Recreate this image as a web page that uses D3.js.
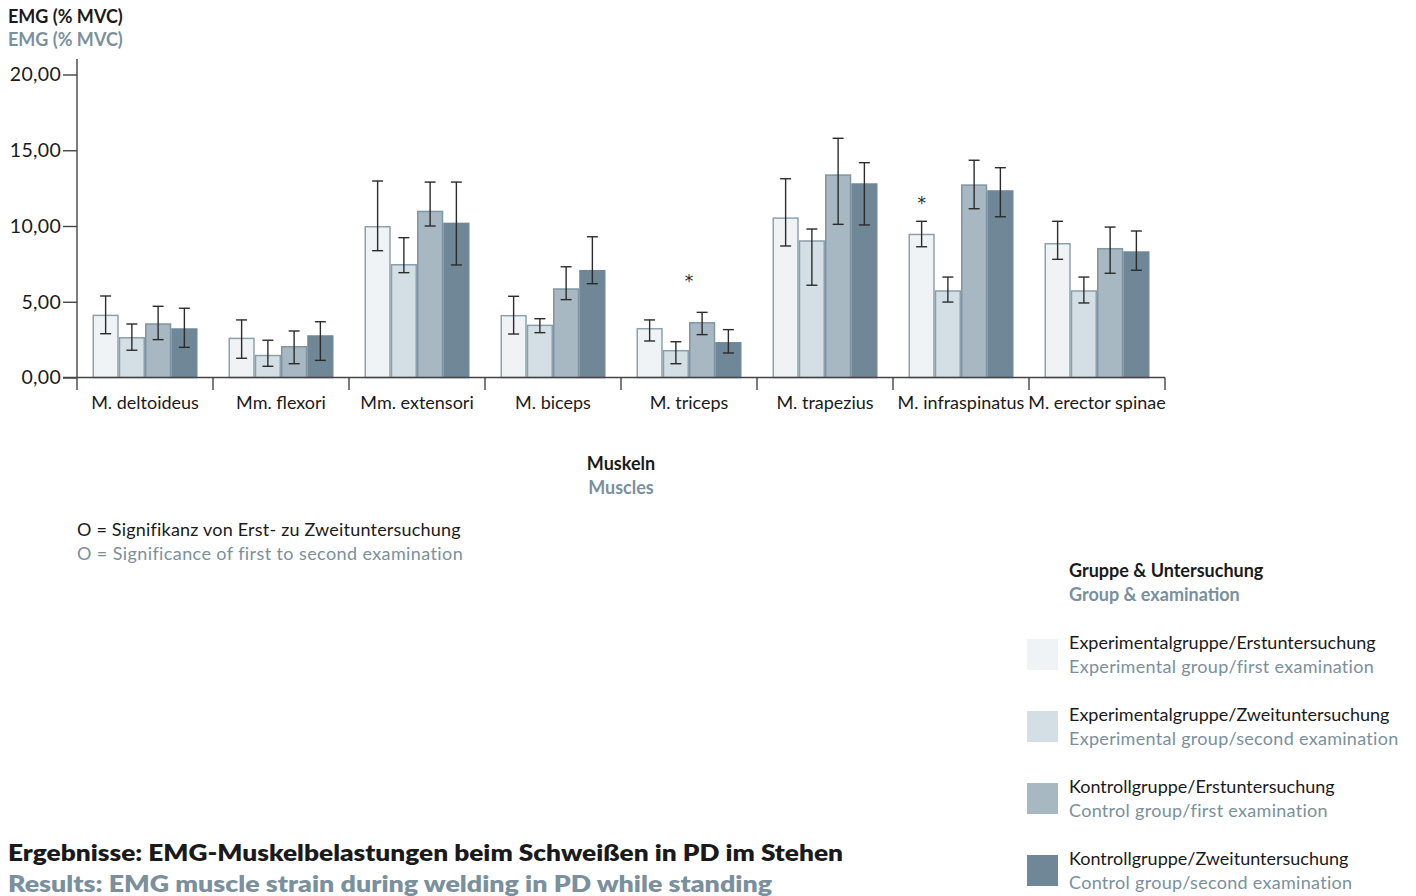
<!DOCTYPE html>
<html>
<head>
<meta charset="utf-8">
<script src="https://cdn.jsdelivr.net/npm/d3@7"></script>
<style>
  html, body { margin: 0; padding: 0; background: #ffffff; }
  svg { display: block; font-family: Lato, "Noto Sans", sans-serif; }
</style>
</head>
<body>
<svg id="chart" width="1416" height="896"></svg>
<script>
// Muscles measured (x categories)
const categories = ["M. deltoideus", "Mm. flexori", "Mm. extensori", "M. biceps",
                    "M. triceps", "M. trapezius", "M. infraspinatus", "M. erector spinae"];

// Group & examination series
const seriesKeys = ["expFirst", "expSecond", "ctrlFirst", "ctrlSecond"];
const seriesDe = ["Experimentalgruppe/Erstuntersuchung", "Experimentalgruppe/Zweituntersuchung",
                  "Kontrollgruppe/Erstuntersuchung", "Kontrollgruppe/Zweituntersuchung"];
const seriesEn = ["Experimental group/first examination", "Experimental group/second examination",
                  "Control group/first examination", "Control group/second examination"];

// Mean EMG (% MVC) per muscle, one array per series
const expFirst   = [4.15, 2.63, 10.0, 4.13, 3.27, 10.57, 9.49, 8.88];
const expSecond  = [2.67, 1.50, 7.49, 3.49, 1.82, 9.06, 5.76, 5.76];
const ctrlFirst  = [3.58, 2.08, 11.01, 5.89, 3.66, 13.41, 12.75, 8.55];
const ctrlSecond = [3.25, 2.79, 10.22, 7.10, 2.34, 12.82, 12.36, 8.33];

// Error bar ends (lower / upper) per series
const expFirstLow   = [2.89, 1.27, 8.37, 2.87, 2.41, 8.68, 8.63, 7.80];
const expFirstHigh  = [5.38, 3.80, 12.97, 5.36, 3.80, 13.12, 10.31, 10.31];
const expSecondLow  = [1.80, 0.74, 6.92, 2.96, 0.91, 6.09, 4.98, 4.92];
const expSecondHigh = [3.53, 2.46, 9.23, 3.88, 2.36, 9.80, 6.63, 6.63];
const ctrlFirstLow  = [2.50, 0.91, 10.0, 5.14, 2.83, 10.11, 11.14, 6.88];
const ctrlFirstHigh = [4.70, 3.07, 12.9, 7.31, 4.30, 15.79, 14.34, 9.93];
const ctrlSecondLow = [1.99, 1.13, 7.43, 6.19, 1.62, 10.07, 10.61, 7.08];
const ctrlSecondHigh= [4.57, 3.68, 12.9, 9.29, 3.16, 14.18, 13.85, 9.67];

// Significance markers: muscle, bar slot position (0..4 across the group), height
const sigMuscles = ["M. triceps", "M. infraspinatus"];
const sigSlots   = [2, 0.5];
const sigValues  = [6.7, 11.83];

// Y axis ticks
const yTicks = [0, 5, 10, 15, 20];

const fills   = ["#eff3f6", "#d4dfe5", "#a7b8c3", "#6f8796"];
const strokes = ["#8da1ad", "#8a9eab", "#7f96a3", "#6f8796"];
const ink = "#1a1a1a";
const blue = "#7a909d";

const means = [expFirst, expSecond, ctrlFirst, ctrlSecond];
const lows  = [expFirstLow, expSecondLow, ctrlFirstLow, ctrlSecondLow];
const highs = [expFirstHigh, expSecondHigh, ctrlFirstHigh, ctrlSecondHigh];

const rows = categories.map((c, i) => ({
  muscle: c,
  bars: seriesKeys.map((k, s) => ({ key: k, s, value: means[s][i], lo: lows[s][i], hi: highs[s][i] }))
}));

const svg = d3.select("#chart");

const x0 = d3.scaleBand().domain(categories).range([77, 1165]).padding(0);
const groupPad = x0.bandwidth() * 0.114;
const x1 = d3.scaleBand().domain(seriesKeys).range([groupPad, x0.bandwidth() - groupPad]).padding(0);
const y = d3.scaleLinear().domain([0, 20]).range([377.5, 74.5]);

// Y axis
const yAxis = svg.append("g")
  .attr("transform", "translate(77,0)")
  .call(d3.axisLeft(y).tickValues(yTicks).tickSize(14).tickPadding(2)
        .tickFormat(d => d.toFixed(2).replace(".", ",")));
yAxis.select(".domain").remove();
yAxis.selectAll(".tick line").attr("stroke", "#444").attr("stroke-width", 1.4);
yAxis.selectAll(".tick text").attr("font-size", 19.5).attr("fill", ink)
  .attr("font-family", "Lato, sans-serif").attr("letter-spacing", 0.3);
svg.append("line")
  .attr("x1", 77).attr("x2", 77).attr("y1", 59).attr("y2", 390)
  .attr("stroke", "#444").attr("stroke-width", 1.4);

// Bars
const groups = svg.append("g").selectAll("g").data(rows).join("g")
  .attr("transform", d => `translate(${x0(d.muscle)},0)`);

groups.selectAll("rect").data(d => d.bars).join("rect")
  .attr("x", d => x1(d.key) + 0.75)
  .attr("width", x1.bandwidth() - 1.5)
  .attr("y", d => y(d.value) + 0.75)
  .attr("height", d => y(0) - y(d.value) - 0.75)
  .attr("fill", d => fills[d.s])
  .attr("stroke", d => strokes[d.s])
  .attr("stroke-width", 1.5);

// Error bars
const eb = groups.selectAll("g.err").data(d => d.bars).join("g").attr("class", "err")
  .attr("stroke", "#2b2b2b").attr("stroke-width", 1.4);
const cx = d => x1(d.key) + x1.bandwidth() / 2;
eb.append("line").attr("x1", cx).attr("x2", cx).attr("y1", d => y(d.hi)).attr("y2", d => y(d.lo));
eb.append("line").attr("x1", d => cx(d) - 5.5).attr("x2", d => cx(d) + 5.5).attr("y1", d => y(d.hi)).attr("y2", d => y(d.hi));
eb.append("line").attr("x1", d => cx(d) - 5.5).attr("x2", d => cx(d) + 5.5).attr("y1", d => y(d.lo)).attr("y2", d => y(d.lo));

// X axis baseline, category boundary ticks and labels
svg.append("line")
  .attr("x1", 63).attr("x2", 1165).attr("y1", y(0)).attr("y2", y(0))
  .attr("stroke", "#444").attr("stroke-width", 1.4);
const bounds = categories.slice(1).map(c => x0(c)).concat([x0.range()[1]]);
svg.append("g").selectAll("line").data(bounds).join("line")
  .attr("x1", d => d).attr("x2", d => d).attr("y1", y(0)).attr("y2", 390)
  .attr("stroke", "#444").attr("stroke-width", 1.4);
const xAxis = svg.append("g")
  .attr("transform", `translate(0,${y(0)})`)
  .call(d3.axisBottom(x0).tickSize(0).tickPadding(19));
xAxis.select(".domain").remove();
xAxis.selectAll(".tick text").attr("font-size", 18).attr("fill", ink).attr("font-family", "Lato, sans-serif");

// Significance asterisks
svg.append("g").selectAll("text").data(sigMuscles).join("text")
  .attr("x", (d, i) => x0(d) + x1(seriesKeys[0]) + x1.step() * sigSlots[i])
  .attr("y", (d, i) => y(sigValues[i]) + 11)
  .attr("text-anchor", "middle")
  .attr("font-family", "DejaVu Sans, sans-serif")
  .attr("font-size", 17).attr("fill", "#2b2b2b")
  .text("*");

// Titles and notes
function twoLine(x, y1, y2, de, en, size, weight, anchor) {
  const g = svg.append("g").attr("text-anchor", anchor || "start")
    .attr("font-size", size).attr("font-weight", weight);
  g.append("text").attr("x", x).attr("y", y1).attr("fill", ink).text(de);
  g.append("text").attr("x", x).attr("y", y2).attr("fill", blue).text(en);
  return g;
}
twoLine(8, 23, 46, "EMG (% MVC)", "EMG (% MVC)", 18, 700);
twoLine((77 + 1165) / 2, 470, 494, "Muskeln", "Muscles", 18, 700, "middle");
const note = twoLine(77, 536, 560, "O = Signifikanz von Erst- zu Zweituntersuchung",
        "O = Significance of first to second examination", 18, 400);
note.select("text:nth-child(1)").attr("letter-spacing", 0.2);
note.select("text:nth-child(2)").attr("letter-spacing", 0.4);
const title = twoLine(8, 861, 892, "Ergebnisse: EMG-Muskelbelastungen beim Schweißen in PD im Stehen",
        "Results: EMG muscle strain during welding in PD while standing", 23, 800);
title.selectAll("text").attr("font-family", "Lato, sans-serif").attr("lengthAdjust", "spacingAndGlyphs");
title.select("text:nth-child(1)").attr("textLength", 835);
title.select("text:nth-child(2)").attr("textLength", 764);

// Legend
twoLine(1069, 577, 601, "Gruppe & Untersuchung", "Group & examination", 18, 700);
const leg = svg.append("g").selectAll("g").data(seriesKeys).join("g")
  .attr("transform", (d, i) => `translate(1027,${639 + i * 72})`);
leg.append("rect").attr("width", 31).attr("height", 31).attr("fill", (d, i) => fills[i]);
leg.append("text").attr("x", 42).attr("y", 10).attr("font-size", 18).attr("fill", ink).text((d, i) => seriesDe[i]);
leg.append("text").attr("x", 42).attr("y", 34).attr("font-size", 18).attr("fill", blue)
  .attr("letter-spacing", 0.3).text((d, i) => seriesEn[i]);
</script>
</body>
</html>
